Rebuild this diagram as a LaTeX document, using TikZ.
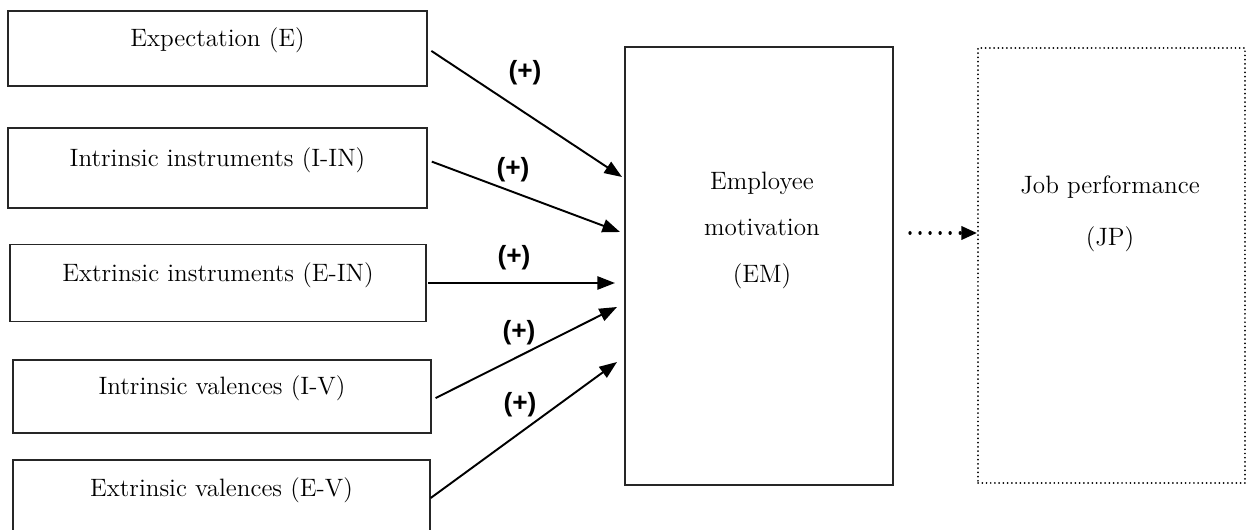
\documentclass[tikz,border=0pt]{standalone}
\usepackage{fontspec}
\newfontfamily\labfont{Liberation Sans}
\usetikzlibrary{arrows.meta}
\tikzset{
  inbox/.style={draw=black!85, line width=0.85pt, rectangle, inner sep=0pt,
    font=\fontsize{14.3}{16}\selectfont, text height=9pt, text depth=11pt},
  bigbox/.style={draw=black!85, line width=0.85pt, rectangle, inner sep=0pt},
  dotbox/.style={draw=black, line width=1.1pt, dash pattern=on 0.01pt off 2.4pt, line cap=round, rectangle, inner sep=0pt},
  bigtxt/.style={align=center, inner sep=0pt, font=\fontsize{14.3}{16}\selectfont},
  arr/.style={line width=1.1pt, -{Triangle[length=10pt,width=7.5pt]}},
  dotarr/.style={line width=1.9pt, dash pattern=on 0.01pt off 5.7pt, line cap=round, -{Triangle[length=9pt,width=7.5pt,line cap=butt]}},
  plus/.style={font=\labfont\bfseries\fontsize{15}{18}\selectfont, inner sep=0pt}
}
\begin{document}
\begin{tikzpicture}[x=0.02cm, y=-0.02cm]
\useasboundingbox (0,0) rectangle (1248,530);
\clip (0,0) rectangle (1248,530);
\fill[white] (0,0) rectangle (1248,530);
% left boxes
\node[inbox, minimum width=8.38cm, minimum height=1.5cm] (e) at (217.5,48.5) {Expectation (E)};
\node[inbox, minimum width=8.38cm, minimum height=1.6cm] (iin) at (217.5,168) {Intrinsic instruments (I-IN)};
\node[inbox, minimum width=8.32cm, minimum height=1.54cm] (ein) at (218,283) {Extrinsic instruments (E-IN)};
\node[inbox, minimum width=8.36cm, minimum height=1.46cm] (iv) at (222,396.5) {Intrinsic valences (I-V)};
\node[inbox, minimum width=8.34cm, minimum height=1.52cm] (ev) at (221.5,498) {Extrinsic valences (E-V)};
% centre and right boxes
\node[bigbox, minimum width=5.36cm, minimum height=8.76cm] (em) at (759,266) {};
\node[bigtxt, execute at begin node=\setlength{\baselineskip}{26.5pt}] (emt) at (762,230) {Employee\\motivation\\(EM)};
\node[dotbox, minimum width=5.34cm, minimum height=8.7cm] (jp) at (1111.5,265.5) {};
\node[bigtxt, execute at begin node=\setlength{\baselineskip}{29.5pt}] (jpt) at (1110,213.5) {Job performance\\(JP)};
% arrow end points on the EM side
\coordinate (t1) at (622,177);
\coordinate (t2) at (620,232);
\coordinate (t3) at (615,283);
\coordinate (t4) at (617,307);
\coordinate (t5) at (617,362);
\draw[arr, shorten <=2.5pt] (e.east) -- (t1);
\draw[arr, shorten <=2.5pt] ([yshift=4.5pt]iin.east) -- (t2);
\draw[arr, shorten <=1pt] (ein.east) -- (t3);
\draw[arr, shorten <=2.5pt] ([yshift=-2pt]iv.east) -- (t4);
\draw[arr] (ev.east) -- (t5);
% labels
\node[plus] (p1) at (525,73) {(+)};
\node[plus] (p2) at (513,170) {(+)};
\node[plus] (p3) at (514,258) {(+)};
\node[plus] (p4) at (519,333) {(+)};
\node[plus] (p5) at (520,405) {(+)};
% dotted arrow
\coordinate (d0) at (910,233);
\draw[dotarr] (d0) -- (jp.west |- d0);
\end{tikzpicture}
\end{document}
